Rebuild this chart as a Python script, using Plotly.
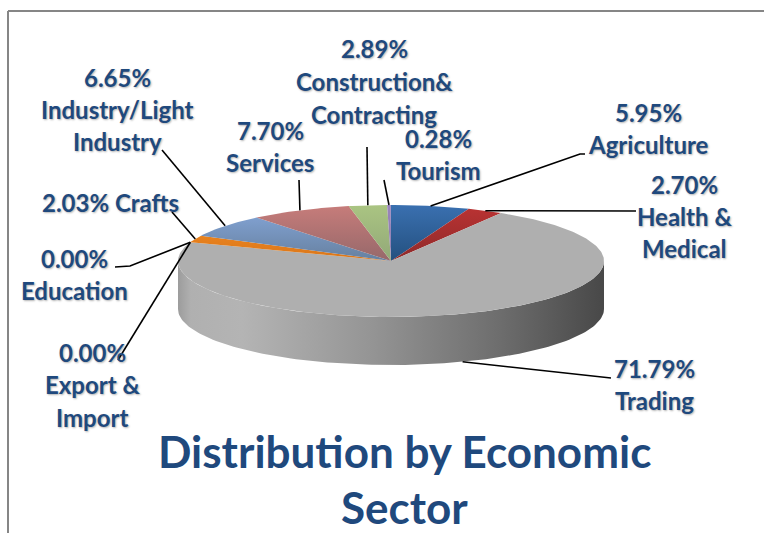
import numpy as np
import plotly.graph_objects as go

# ---- data (clockwise from 12 o'clock) ----
sectors = ["Agriculture", "Health & Medical", "Trading", "Export & Import", "Education",
           "Crafts", "Industry/Light Industry", "Services", "Construction& Contracting", "Tourism"]
shares = [5.95, 2.70, 71.79, 0.00, 0.00, 2.03, 6.65, 7.70, 2.89, 0.28]
title_lines = ["Distribution by Economic", "Sector"]

# label text lines: (text, x, y)
label_lines = [
    ("2.89%", 374, 48), ("Construction&", 374, 81), ("Contracting", 374, 114),
    ("6.65%", 117, 77), ("Industry/Light", 117, 109), ("Industry", 117, 141),
    ("7.70%", 270, 130), ("Services", 270, 162),
    ("0.28%", 438, 138), ("Tourism", 438, 170),
    ("5.95%", 648, 112), ("Agriculture", 648, 144),
    ("2.70%", 684, 184), ("Health &", 684, 216), ("Medical", 684, 248),
    ("2.03% Crafts", 110, 202),
    ("0.00%", 74, 258), ("Education", 74, 290),
    ("0.00%", 92, 352), ("Export &", 92, 384), ("Import", 92, 417),
    ("71.79%", 654, 368), ("Trading", 654, 400),
]
# leader line outer points, per sector
leader_ends = {
    "Agriculture": [(580, 154), (585, 154)],
    "Health & Medical": [(636, 211)],
    "Trading": [(605, 378), (611, 378)],
    "Export & Import": [(118, 360)],
    "Education": [(130, 266), (115, 267)],
    "Crafts": [(172, 212)],
    "Industry/Light Industry": [(162, 150)],
    "Services": [(299, 180)],
    "Construction& Contracting": [(367, 147)],
    "Tourism": [(384, 180)],
}
# top-face gradient colours (upper, lower)
colors = {
    "Agriculture": ("#3a70b0", "#24507f"),
    "Health & Medical": ("#b83232", "#8e2a2a"),
    "Trading": ("#afafaf", "#afafaf"),
    "Export & Import": ("#8064a2", "#8064a2"),
    "Education": ("#4bacc6", "#4bacc6"),
    "Crafts": ("#e8821e", "#d9761a"),
    "Industry/Light Industry": ("#7f9fce", "#66809f"),
    "Services": ("#c67c7a", "#96686a"),
    "Construction& Contracting": ("#aac482", "#92a878"),
    "Tourism": ("#9a86bc", "#8a76aa"),
}

CX, CY, RX, RY, DEPTH = 391, 261, 213, 56, 48
INK = "#1f497d"

def rim(t):
    return CX + RX * np.sin(t), CY - RY * np.cos(t)

fig = go.Figure()

# side wall (front half of the cylinder)
t = np.radians(np.linspace(90, 270, 120))
xr, yr = rim(t)
fig.add_trace(go.Scatter(
    x=np.r_[xr, xr[::-1]], y=np.r_[yr, yr[::-1] + DEPTH], mode="lines", fill="toself",
    line=dict(width=0), hoverinfo="skip", showlegend=False,
    fillgradient=dict(type="horizontal", colorscale=[
        [0, "#9c9c9c"], [0.03, "#b0b0b0"], [0.15, "#b4b4b4"], [0.45, "#959595"], [0.75, "#6e6e6e"], [1, "#484848"]]),
))

# top face slices
cum = 0.0
mids = {}
for name, share in zip(sectors, shares):
    a0, a1 = cum, cum + share
    cum = a1
    mids[name] = (a0 + a1) / 2
    if share <= 0:
        continue
    t = np.radians(np.linspace(a0, a1, max(4, int(share * 4))) * 3.6)
    xr, yr = rim(t)
    top, bottom = colors[name]
    fig.add_trace(go.Scatter(
        x=np.r_[CX, xr, CX], y=np.r_[CY, yr, CY], mode="lines", fill="toself",
        line=dict(width=0), name=name, showlegend=False,
        fillgradient=dict(type="vertical", colorscale=[[0, bottom], [1, top]]),
    ))

# leader lines
for name, ends in leader_ends.items():
    x0, y0 = rim(np.radians(mids[name] * 3.6))
    if name == "Trading":
        y0 += DEPTH
    fig.add_trace(go.Scatter(
        x=[x0] + [p[0] for p in ends], y=[y0] + [p[1] for p in ends], mode="lines",
        line=dict(color="black", width=1.6), hoverinfo="skip", showlegend=False))

# labels
for text, x, y in label_lines:
    fig.add_annotation(x=x, y=y, text=f"<b>{text}</b>", showarrow=False, xanchor="center", yanchor="middle",
                       font=dict(family="Lato", size=24, color=INK, shadow="1px 1px 2px rgba(0,0,0,0.3)"))
for text, y in zip(title_lines, (451, 507)):
    fig.add_annotation(x=404, y=y, text=f"<b>{text}</b>", showarrow=False, xanchor="center", yanchor="middle",
                       font=dict(family="Lato", size=44, color=INK))

# frame
fig.add_shape(type="line", x0=8, x1=8, y0=11, y1=533, line=dict(color="#868686", width=2))
fig.add_shape(type="line", x0=8, x1=764, y0=11, y1=11, line=dict(color="#868686", width=2))

fig.update_xaxes(visible=False, range=[0, 764], fixedrange=True)
fig.update_yaxes(visible=False, range=[533, 0], fixedrange=True)
fig.update_layout(width=764, height=533, margin=dict(l=0, r=0, t=0, b=0),
                  paper_bgcolor="white", plot_bgcolor="white", showlegend=False)
fig.write_html("out.html",
               post_script="document.body.style.margin='0';document.body.style.overflow='hidden';"
                           "document.body.style.fontVariantLigatures='none';",
               config={"displayModeBar": False})
